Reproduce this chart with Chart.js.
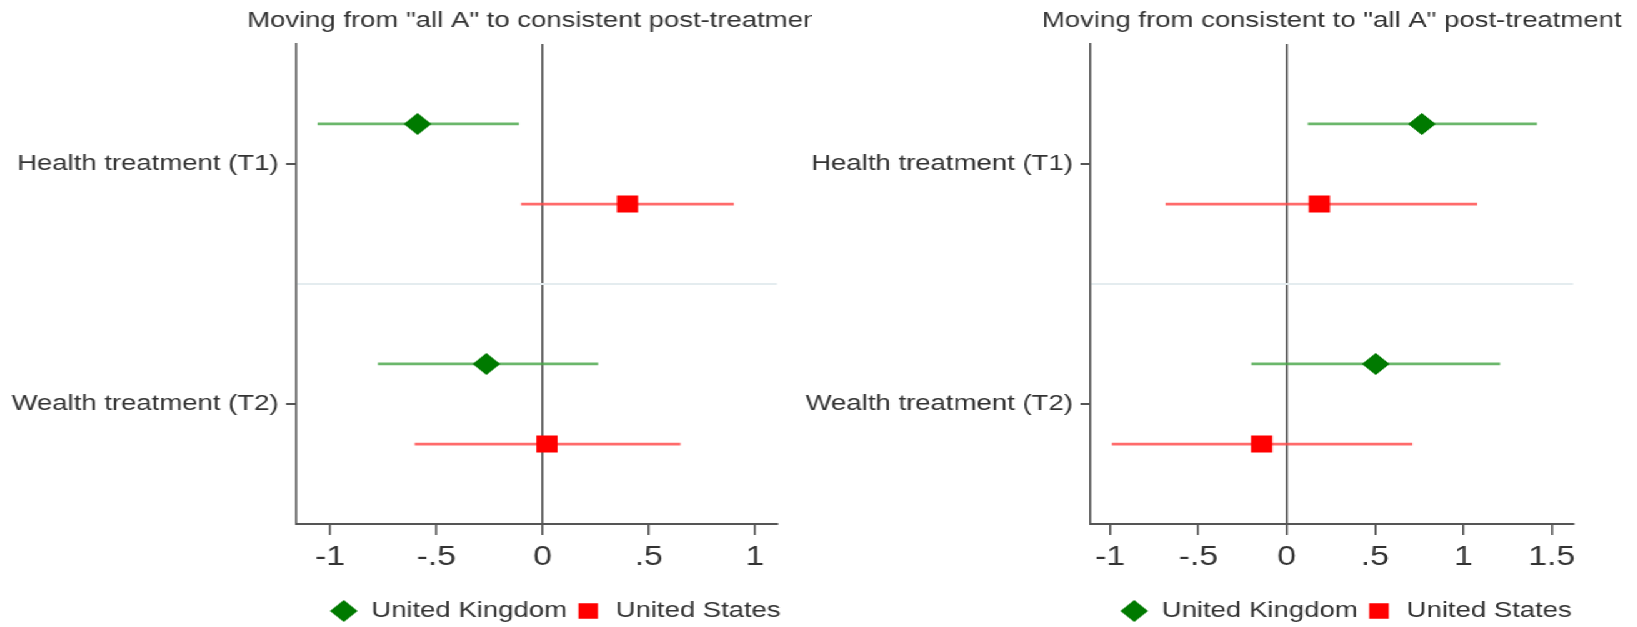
<!DOCTYPE html>
<html>
<head>
<meta charset="utf-8">
<script src="https://cdn.jsdelivr.net/npm/chart.js@4.4.1/dist/chart.umd.min.js"></script>
<style>
  html, body { margin:0; padding:0; background:#fff; overflow:hidden; }
  /* the source figure is stretched sideways, so the panels are drawn narrow and widened */
  #wrap { position:absolute; left:0; top:0; width:1309.6px; height:627px; transform:scaleX(1.25); transform-origin:0 0; }
  .panel { position:absolute; top:0; height:627px; }
  #panelA { left:0; width:650px; }
  #panelB { left:636px; width:673.6px; }
</style>
</head>
<body>
<div id="wrap">
  <div class="panel" id="panelA"><canvas id="chartA"></canvas></div>
  <div class="panel" id="panelB"><canvas id="chartB"></canvas></div>
</div>
<script>
// --- data ---
const treatments = ["Health treatment (T1)", "Wealth treatment (T2)"];
const countries = ["United Kingdom", "United States"];
const titleA = 'Moving from "all A" to consistent post-treatment';
const titleB = 'Moving from consistent to "all A" post-treatment';

const ukCoefA = [-0.588, -0.264];
const ukLowA  = [-1.059, -0.775];
const ukHighA = [-0.111, 0.262];
const usCoefA = [0.400, 0.021];
const usLowA  = [-0.101, -0.602];
const usHighA = [0.901, 0.650];

const ukCoefB = [0.765, 0.504];
const ukLowB  = [0.119, -0.200];
const ukHighB = [1.416, 1.208];
const usCoefB = [0.185, -0.142];
const usLowB  = [-0.686, -0.990];
const usHighB = [1.078, 0.711];

const ticksA = [-1, -0.5, 0, 0.5, 1];
const ticksB = [-1, -0.5, 0, 0.5, 1, 1.5];

const ukOffset = -0.167, usOffset = 0.167;

Chart.defaults.font.family = "'Liberation Sans', Arial, sans-serif";
Chart.defaults.color = "#333";

// --- panel title drawn over the plot area (clipped by the canvas like the original) ---
const panelTitle = {
  id: "panelTitle",
  afterDraw(chart, args, opts){
    const {ctx, chartArea} = chart;
    ctx.save();
    ctx.font = opts.size + "px 'Liberation Sans', Arial, sans-serif";
    ctx.fillStyle = opts.color;
    ctx.textAlign = "center"; ctx.textBaseline = "middle";
    ctx.fillText(opts.text, (chartArea.left + chartArea.right) / 2, opts.y);
    ctx.restore();
  }
};

// nudge the legend sideways a little, the original sits slightly right of the plot
const legendShift = {
  id: "legendShift",
  afterLayout(chart, args, opts){
    if(!chart.legend) return;
    chart.legend.left += opts.dx;
    chart.legend.right += opts.dx;
  }
};

function ciLine(lo, hi, idx, off, color){
  return {
    type: "scatter", showLine: true,
    data: [{x: lo[idx], y: idx + 1 + off}, {x: hi[idx], y: idx + 1 + off}],
    borderColor: color, borderWidth: 2.6, pointRadius: 0, pointHoverRadius: 0
  };
}

function makeChart(id, cfg){
  const ds = [
    { label: countries[0], data: cfg.ukCoef.map((v, i) => ({x: v, y: i + 1 + ukOffset})),
      pointStyle: "rectRot", pointRadius: 11, backgroundColor: "#007a00", borderColor: "#007a00", borderWidth: 0 },
    { label: countries[1], data: cfg.usCoef.map((v, i) => ({x: v, y: i + 1 + usOffset})),
      pointStyle: "rect", pointRadius: 12, backgroundColor: "#ff0000", borderColor: "#ff0000", borderWidth: 0 }
  ];
  treatments.forEach((t, i) => {
    ds.push(ciLine(cfg.ukLow, cfg.ukHigh, i, ukOffset, "rgba(70,165,70,0.8)"));
    ds.push(ciLine(cfg.usLow, cfg.usHigh, i, usOffset, "rgba(255,70,70,0.8)"));
  });

  return new Chart(document.getElementById(id), {
    type: "scatter",
    data: { datasets: ds },
    plugins: [panelTitle, legendShift],
    options: {
      responsive: true, maintainAspectRatio: false, animation: false,
      layout: { padding: { top: 44, right: cfg.padRight, bottom: -5, left: 0 } },
      plugins: {
        tooltip: { enabled: false },
        panelTitle: { text: cfg.title, size: 22, color: "#333", y: 21 },
        legendShift: { dx: cfg.legendDx },
        legend: {
          position: "bottom", align: "end",
          labels: {
            usePointStyle: true, boxHeight: 15.6, padding: 6,
            font: { size: 22 }, color: "#333",
            filter: item => item.datasetIndex < 2
          }
        }
      },
      scales: {
        x: {
          type: "linear", min: cfg.xMin, max: cfg.xMax,
          afterBuildTicks: s => { s.ticks = cfg.ticks.map(v => ({value: v})); },
          afterFit: s => { s.height = 70; },
          ticks: { font: { size: 27 }, color: "#333", padding: 6,
                   callback: v => String(v).replace("0.", ".") },
          grid: { drawOnChartArea: true, tickLength: 11,
                  color: c => (c.tick && c.tick.value === 0) ? "#555" : "rgba(0,0,0,0)",
                  lineWidth: 1.6, tickColor: "#555", tickWidth: 1.6 },
          border: { display: true, color: "#555", width: 2 }
        },
        y: {
          type: "linear", min: 0.5, max: 2.5, reverse: true,
          afterBuildTicks: s => { s.ticks = [1, 1.5, 2].map(v => ({value: v})); },
          afterFit: s => { s.width = cfg.yWidth; },
          ticks: { font: { size: 22 }, color: "#333", padding: 6,
                   callback: v => v === 1 ? treatments[0] : (v === 2 ? treatments[1] : "") },
          grid: { drawOnChartArea: true, tickLength: 8, lineWidth: 2, tickWidth: 2,
                  color: c => (c.tick && c.tick.value === 1.5) ? "#e4ecef" : "rgba(0,0,0,0)",
                  tickColor: c => (c.tick && c.tick.value === 1.5) ? "rgba(0,0,0,0)" : "#555" },
          border: { display: true, color: "#555", width: 1.6 }
        }
      }
    }
  });
}

makeChart("chartA", {
  title: titleA, ukCoef: ukCoefA, ukLow: ukLowA, ukHigh: ukHighA,
  usCoef: usCoefA, usLow: usLowA, usHigh: usHighA,
  ticks: ticksA, xMin: -1.16, xMax: 1.104, yWidth: 236.8, padRight: 28.4, legendDx: 9
});
makeChart("chartB", {
  title: titleB, ukCoef: ukCoefB, ukLow: ukLowB, ukHigh: ukHighB,
  usCoef: usCoefB, usLow: usLowB, usHigh: usHighB,
  ticks: ticksB, xMin: -1.111, xMax: 1.621, yWidth: 236, padRight: 52, legendDx: 5
});
</script>
</body>
</html>
